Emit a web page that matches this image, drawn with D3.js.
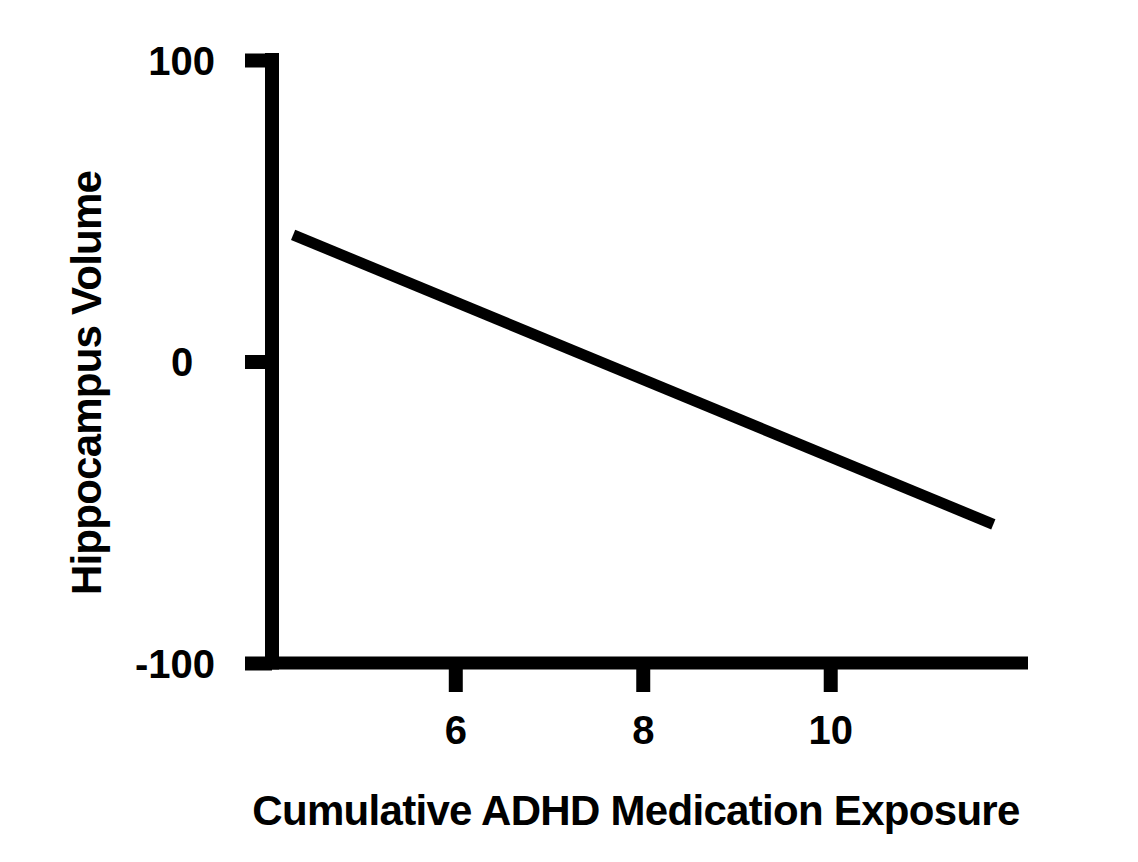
<!DOCTYPE html>
<html>
<head>
<meta charset="utf-8">
<script src="https://cdn.jsdelivr.net/npm/d3@7"></script>
<style>
  body { margin: 0; background: #fff; }
  svg text { font-family: "Liberation Sans", Arial, sans-serif; fill: #000; }
</style>
</head>
<body>
<svg width="1138" height="862"></svg>
<script>
// data
const lineX = [4.27, 11.74];
const lineY = [42, -54];
const xTicks = [6, 8, 10];
const yTicks = [-100, 0, 100];
const xTitle = "Cumulative ADHD Medication Exposure";
const yTitle = "Hippocampus Volume";

const svg = d3.select("svg");

const x = d3.scaleLinear().domain([3.97, 12.11]).range([265, 1028]);
const y = d3.scaleLinear().domain([-100, 100]).range([663, 60]);
const axisX = 272;   // where the y axis stands
const axisY = 663;   // where the x axis stands

// x axis
const gx = svg.append("g")
    .attr("transform", `translate(0,${axisY})`)
    .call(d3.axisBottom(x).tickValues(xTicks).tickSize(29).tickSizeOuter(0).tickPadding(24)
        .tickFormat(d => String(d)));
gx.select(".domain").remove();
gx.selectAll(".tick line").attr("stroke", "#000").attr("stroke-width", 14);
gx.selectAll(".tick text").attr("font-size", 40).attr("font-weight", "bold");
gx.append("line")
    .attr("x1", x.range()[0]).attr("x2", x.range()[1])
    .attr("stroke", "#000").attr("stroke-width", 13);

// y axis
const gy = svg.append("g")
    .attr("transform", `translate(${axisX},0)`)
    .call(d3.axisLeft(y).tickValues(yTicks).tickSize(27).tickSizeOuter(0)
        .tickFormat(d => String(d)));
gy.select(".domain").remove();
gy.selectAll(".tick line").attr("stroke", "#000").attr("stroke-width", 14);
gy.selectAll(".tick text")
    .attr("font-size", 40).attr("font-weight", "bold")
    .attr("dy", "0.36em")
    .attr("x", d => d === 0 ? -90 : -57)
    .attr("text-anchor", d => d === 0 ? "middle" : "end");
gy.append("line")
    .attr("y1", y(100) - 7).attr("y2", axisY + 6.5)
    .attr("stroke", "#000").attr("stroke-width", 14);

// fitted line
const line = d3.line().x(d => x(d[0])).y(d => y(d[1]));
svg.append("path")
    .datum(lineX.map((v, i) => [v, lineY[i]]))
    .attr("d", line)
    .attr("fill", "none")
    .attr("stroke", "#000")
    .attr("stroke-width", 11);

// titles, squeezed to the width they take in the reference
function fit(sel, width) {
  const n = sel.text().length;
  const w = sel.node().getComputedTextLength();
  sel.attr("letter-spacing", (width - w) / (n - 1));
}

svg.append("text")
    .attr("x", 636).attr("y", 825)
    .attr("text-anchor", "middle")
    .attr("font-size", 42).attr("font-weight", "bold")
    .text(xTitle)
    .call(fit, 768);

svg.append("text")
    .attr("transform", "translate(101,383) rotate(-90)")
    .attr("text-anchor", "middle")
    .attr("font-size", 42).attr("font-weight", "bold")
    .text(yTitle)
    .call(fit, 425);
</script>
</body>
</html>
